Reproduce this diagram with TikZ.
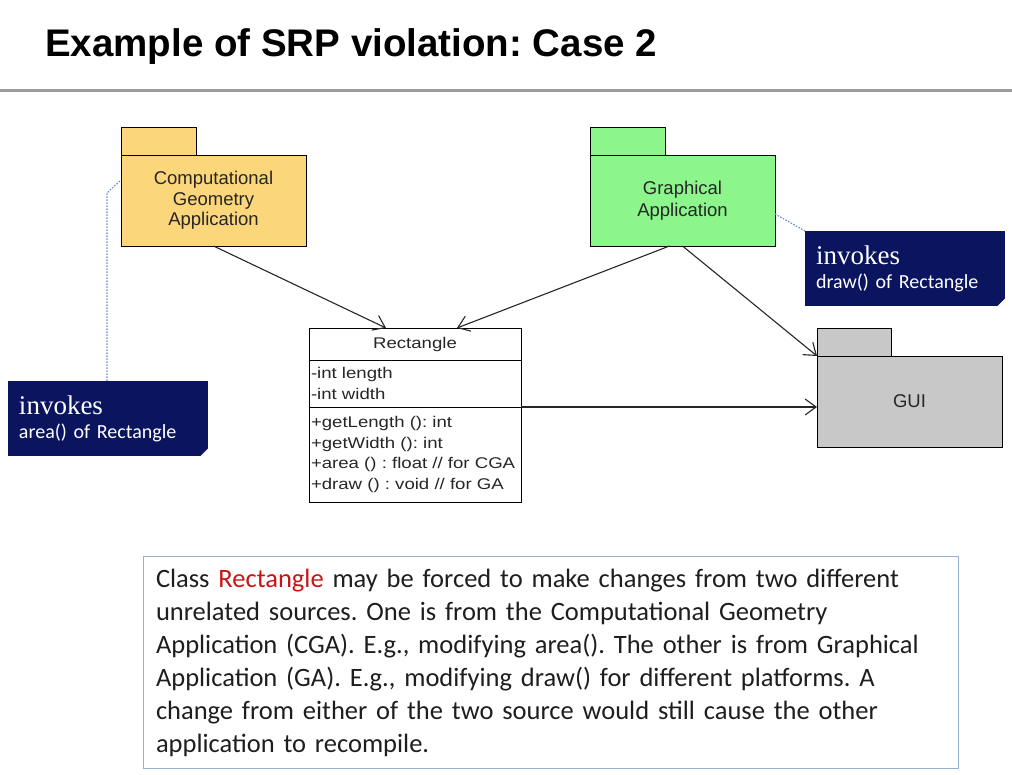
\documentclass[tikz,border=0pt]{standalone}
\usepackage{fontspec}
\setmainfont{Liberation Sans}
\newfontfamily\notserif{Liberation Serif}
\newfontfamily\notsans{Carlito}
\newfontfamily\widesans[FakeStretch=1.2]{Liberation Sans}
\frenchspacing
\usetikzlibrary{arrows.meta,calc}
\definecolor{cgafill}{RGB}{252,214,122}
\definecolor{gafill}{RGB}{140,245,140}
\definecolor{guifill}{RGB}{200,200,200}
\definecolor{navy}{RGB}{10,20,95}
\definecolor{dotblue}{RGB}{105,140,200}
\definecolor{boxblue}{RGB}{150,175,205}
\definecolor{rulegray}{RGB}{155,155,155}
\definecolor{redtext}{RGB}{200,20,20}
\definecolor{bodytext}{RGB}{30,30,30}
\tikzset{
  pkgbody/.style={draw=black, line width=0.9pt, anchor=north west, minimum width=185pt, minimum height=91pt, inner sep=0pt, outer sep=0pt, align=center, text=black!85, font=\fontsize{18.5}{20.5}\selectfont},
  pkgtab/.style={draw=black, line width=0.9pt},
  classpart/.style={draw=black, line width=0.9pt, anchor=north west, minimum width=212pt, inner xsep=2pt, inner ysep=0pt, outer sep=0pt, text width=208pt, align=left, text=black!85, font=\widesans\fontsize{15.5}{20.7}\selectfont},
  arr/.style={draw=black!85, line width=1.1pt, -{Straight Barb[length=11pt,width=16pt,line width=1.1pt]}},
  notebox/.style={fill=navy, text=white, anchor=north west, rectangle, minimum width=200pt, minimum height=75pt, inner xsep=11pt, inner ysep=0pt, outer sep=0pt, text width=178pt, align=left, font=\notsans\fontsize{20}{24}\selectfont},
  notelink/.style={draw=dotblue, line width=1.2pt, dash pattern=on 1.5pt off 1.5pt},
}
\begin{document}
\begin{tikzpicture}[x=1pt,y=-1pt]
\useasboundingbox (0,0) rectangle (1012,775);
% title
\node[anchor=base west, inner sep=0pt, font=\bfseries\fontsize{38.5}{40}\selectfont] (title) at (45,57) {Example of SRP violation: Case 2};
\draw[rulegray, line width=3pt] (0,91) -- (1012,91);

% packages
\node[pkgbody, fill=cgafill] (cga) at (121,155) {Computational\\Geometry\\Application};
\draw[pkgtab, fill=cgafill] (cga.north west) rectangle ++(75,-28);
\node[pkgbody, fill=gafill, font=\fontsize{18.5}{22}\selectfont] (ga) at (590,155) {Graphical\\Application};
\draw[pkgtab, fill=gafill] (ga.north west) rectangle ++(75,-28);
\node[pkgbody, fill=guifill] (gui) at (817,356) {GUI};
\draw[pkgtab, fill=guifill] (gui.north west) rectangle ++(74,-28);

% class
\node[classpart, minimum height=32pt, align=center] (rhead) at (309,328) {Rectangle};
\node[classpart, minimum height=47pt] (rattr) at (rhead.south west) {-int length\\-int width};
\node[classpart, minimum height=95pt] (rops) at (rattr.south west) {+getLength (): int\\+getWidth (): int\\+area () : float // for CGA\\+draw () : void // for GA};

% connectors
\coordinate (cgatip) at ($(rhead.north west)+(77,0)$);
\coordinate (gatip) at ($(rhead.north west)+(148,0)$);
\coordinate (gastart) at ($(ga.south)+(-13,0)$);
\draw[arr] (cga.south) -- (cgatip);
\draw[arr] (gastart) -- (gatip);
\draw[arr] (ga.south) -- (gui.north west);
\draw[arr] (rattr.south east) -- (rattr.south east -| gui.west);

% notes
\node[notebox] (noteA) at (8,381) {{\notserif\fontsize{27}{27}\selectfont invokes}\\area() of Rectangle};
\fill[white] ($(noteA.south east)+(-8,0.5)$) -- ($(noteA.south east)+(0.5,0.5)$) -- ($(noteA.south east)+(0.5,-8)$) -- cycle;
\node[notebox] (noteB) at (805,231) {{\notserif\fontsize{27}{27}\selectfont invokes}\\draw() of Rectangle};
\fill[white] ($(noteB.south east)+(-8,0.5)$) -- ($(noteB.south east)+(0.5,0.5)$) -- ($(noteB.south east)+(0.5,-8)$) -- cycle;
\coordinate (bendA) at (107,193);
\draw[notelink] (noteA.north -| bendA) -- (bendA) -- (cga.west |- 0,180);
\draw[notelink] (ga.east |- 0,214) -- (noteB.north west);

% explanation box
\node[draw=boxblue, line width=1pt, anchor=north west, minimum width=815pt, minimum height=212pt, inner xsep=12pt, text width=790pt, align=left, text=bodytext, font=\notsans\fontsize{26.5}{33}\selectfont] (expl) at (143,556) {Class {\color{redtext}Rectangle} may be forced to make changes from two different\\unrelated sources. One is from the Computational Geometry\\Application (CGA). E.g., modifying area(). The other is from Graphical\\Application (GA). E.g., modifying draw() for different platforms. A\\change from either of the two source would still cause the other\\application to recompile.};
\end{tikzpicture}
\end{document}
